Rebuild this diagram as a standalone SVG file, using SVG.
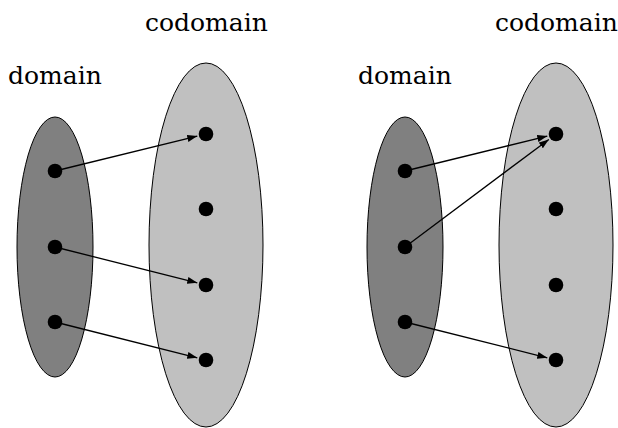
<svg xmlns="http://www.w3.org/2000/svg" width="618" height="428" viewBox="0 0 618 428">
<style>
.dom{fill:#808080;stroke:#000;stroke-width:1}
.cod{fill:#c0c0c0;stroke:#000;stroke-width:1}
.dot{fill:#000}
.lbl{font-family:"DejaVu Serif","Liberation Serif",serif;font-size:25px;fill:#000}
.edge{stroke:#000;stroke-width:1.3;fill:none;marker-end:url(#ah)}
</style>
<defs>
<marker id="ah" markerUnits="userSpaceOnUse" markerWidth="11" markerHeight="8" refX="10" refY="3.5" orient="auto">
<path d="M0,0 L10,3.5 L0,7 z" fill="#000"/>
</marker>
</defs>
<rect width="618" height="428" fill="#fff"/>
<g id="left-domain"><ellipse class="dom" cx="55" cy="247" rx="38" ry="130"/><text class="lbl" x="8" y="84">domain</text></g>
<g id="left-codomain"><ellipse class="cod" cx="206" cy="245" rx="57" ry="182"/><text class="lbl" x="145" y="31">codomain</text></g>
<g id="right-domain"><ellipse class="dom" cx="405" cy="247" rx="38" ry="130"/><text class="lbl" x="358" y="84">domain</text></g>
<g id="right-codomain"><ellipse class="cod" cx="556" cy="245" rx="57" ry="182"/><text class="lbl" x="495" y="31">codomain</text></g>
<g id="connectors">
<line class="edge" x1="55" y1="171" x2="197.3" y2="136.1"/>
<line class="edge" x1="55" y1="247" x2="197.3" y2="282.8"/>
<line class="edge" x1="55" y1="322" x2="197.3" y2="357.8"/>
<line class="edge" x1="405" y1="171" x2="547.3" y2="136.1"/>
<line class="edge" x1="405" y1="247" x2="548.8" y2="139.4"/>
<line class="edge" x1="405" y1="322" x2="547.3" y2="357.8"/>
</g>
<g id="l-d1"><circle class="dot" cx="55" cy="171" r="7.3"/></g>
<g id="l-d2"><circle class="dot" cx="55" cy="247" r="7.3"/></g>
<g id="l-d3"><circle class="dot" cx="55" cy="322" r="7.3"/></g>
<g id="l-c1"><circle class="dot" cx="206" cy="134" r="7.3"/></g>
<g id="l-c2"><circle class="dot" cx="206" cy="209" r="7.3"/></g>
<g id="l-c3"><circle class="dot" cx="206" cy="285" r="7.3"/></g>
<g id="l-c4"><circle class="dot" cx="206" cy="360" r="7.3"/></g>
<g id="r-d1"><circle class="dot" cx="405" cy="171" r="7.3"/></g>
<g id="r-d2"><circle class="dot" cx="405" cy="247" r="7.3"/></g>
<g id="r-d3"><circle class="dot" cx="405" cy="322" r="7.3"/></g>
<g id="r-c1"><circle class="dot" cx="556" cy="134" r="7.3"/></g>
<g id="r-c2"><circle class="dot" cx="556" cy="209" r="7.3"/></g>
<g id="r-c3"><circle class="dot" cx="556" cy="285" r="7.3"/></g>
<g id="r-c4"><circle class="dot" cx="556" cy="360" r="7.3"/></g>
</svg>
